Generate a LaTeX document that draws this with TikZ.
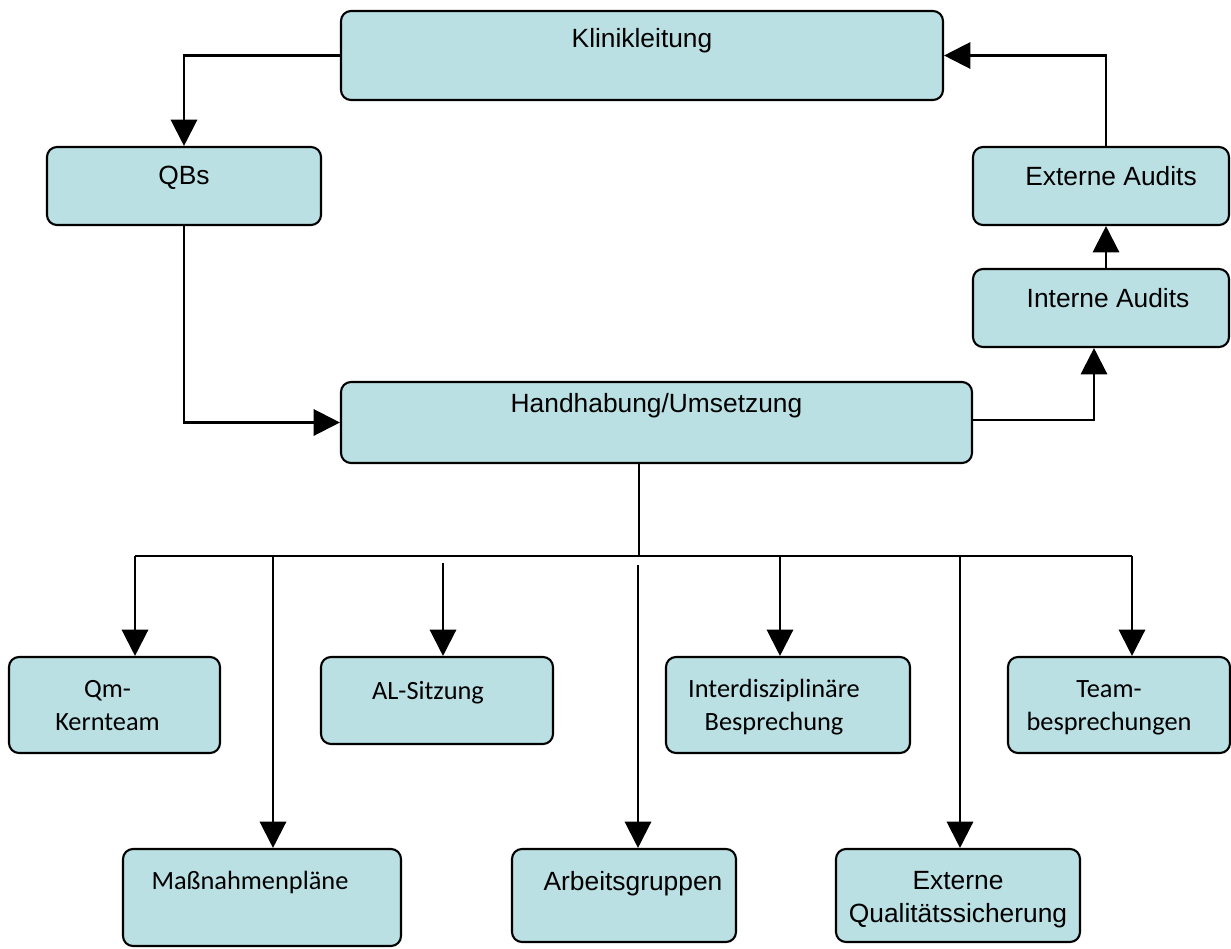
\documentclass[tikz,border=0pt]{standalone}
\usepackage{fontspec}
\newfontfamily\arialfont{Liberation Sans}
\newfontfamily\calibrifont{Carlito}
\usetikzlibrary{arrows.meta}
\usetikzlibrary{positioning}
\definecolor{boxfill}{RGB}{186,224,227}

\begin{document}
\begin{tikzpicture}[
    box/.style={draw, line width=1.2pt, rounded corners=0.2cm, fill=boxfill},
    arial/.style={font=\arialfont\fontsize{15}{19}\selectfont, inner sep=0pt, align=center},
    calibri/.style={font=\calibrifont\fontsize{15}{19}\selectfont, inner sep=0pt, align=center},
    arr/.style={line width=1.3pt, -{Triangle[length=15pt,width=15pt]}},
    link/.style={line width=1.3pt}
  ]
  \useasboundingbox (0,0) rectangle (24.62,-18.96);

  % upper part
  \node[box, minimum width=12.04cm, minimum height=1.78cm] (kl) at (12.84,-1.11) {};
  \node[arial, below=0.37cm of kl.north] (kl-t) {Klinikleitung};
  \node[box, minimum width=5.48cm, minimum height=1.56cm] (qbs) at (3.68,-3.72) {};
  \node[arial, below=0.39cm of qbs.north] (qbs-t) {QBs};
  \node[box, minimum width=5.12cm, minimum height=1.56cm] (ext) at (22.02,-3.72) {};
  \node[arial, below=0.41cm of ext.north, xshift=0.2cm] (ext-t) {Externe Audits};
  \node[box, minimum width=5.12cm, minimum height=1.56cm] (int) at (22.02,-6.16) {};
  \node[arial, below=0.41cm of int.north, xshift=0.14cm] (int-t) {Interne Audits};
  \node[box, minimum width=12.62cm, minimum height=1.62cm] (hand) at (13.13,-8.45) {};
  \node[arial, below=0.25cm of hand.north] (hand-t) {Handhabung/Umsetzung};

  % lower part
  \node[box, minimum width=4.22cm, minimum height=1.92cm] (qm) at (2.29,-14.10) {};
  \node[calibri, below=0.48cm of qm.north, xshift=-0.14cm] (qm-t) {Qm-\\Kernteam};
  \node[box, minimum width=4.64cm, minimum height=1.74cm] (al) at (8.74,-14.01) {};
  \node[calibri, below=0.50cm of al.north, xshift=-0.18cm] (al-t) {AL-Sitzung};
  \node[box, minimum width=4.88cm, minimum height=1.92cm] (inter) at (15.76,-14.10) {};
  \node[calibri, below=0.46cm of inter.north, xshift=-0.28cm] (inter-t) {Interdisziplinäre\\Besprechung};
  \node[box, minimum width=4.44cm, minimum height=1.92cm] (team) at (22.38,-14.10) {};
  \node[calibri, below=0.48cm of team.north, xshift=-0.2cm] (team-t) {Team-\\besprechungen};
  \node[box, minimum width=5.56cm, minimum height=1.94cm] (mass) at (5.24,-17.95) {};
  \node[calibri, below=0.46cm of mass.north, xshift=-0.24cm] (mass-t) {Maßnahmenpläne};
  \node[box, minimum width=4.48cm, minimum height=1.86cm] (arb) at (12.48,-17.91) {};
  \node[arial, below=0.46cm of arb.north, xshift=0.18cm] (arb-t) {Arbeitsgruppen};
  \node[box, minimum width=4.88cm, minimum height=1.86cm] (exq) at (19.16,-17.91) {};
  \node[arial, below=0.46cm of exq.north] (exq-t) {Externe\\Qualitätssicherung};

  % connectors
  \coordinate (bus) at (12.78,-11.12);
  \draw[arr] (kl.west) -| (qbs.north);
  \draw[arr] (qbs.south) |- (hand.west);
  \draw[arr] ([yshift=0.05cm]hand.east) -| ([xshift=-0.14cm]int.south);
  \draw[arr] ([xshift=0.1cm]int.north) -- ([xshift=0.1cm]ext.south);
  \draw[arr] ([xshift=0.1cm]ext.north) |- (kl.east);
  \draw[line width=0.9pt] (hand.south -| bus) -- (bus);
  \draw[link] ([xshift=0.41cm]qm.north |- bus) -- ([xshift=0.26cm]team.north |- bus);
  \draw[arr] ([xshift=0.41cm]qm.north |- bus) -- ([xshift=0.41cm]qm.north);
  \draw[arr] ([xshift=0.22cm]mass.north |- bus) -- ([xshift=0.22cm]mass.north);
  \draw[arr] ([xshift=0.12cm, yshift=-0.14cm]al.north |- bus) -- ([xshift=0.12cm]al.north);
  \draw[arr] ([xshift=0.28cm, yshift=-0.18cm]arb.north |- bus) -- ([xshift=0.28cm]arb.north);
  \draw[arr] ([xshift=-0.16cm]inter.north |- bus) -- ([xshift=-0.16cm]inter.north);
  \draw[arr] ([xshift=0.04cm]exq.north |- bus) -- ([xshift=0.04cm]exq.north);
  \draw[arr] ([xshift=0.26cm]team.north |- bus) -- ([xshift=0.26cm]team.north);
\end{tikzpicture}
\end{document}
